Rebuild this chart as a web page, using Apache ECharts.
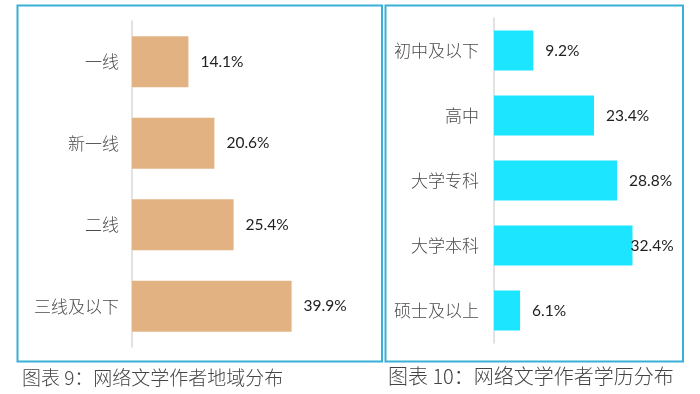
<!DOCTYPE html>
<html><head><meta charset="utf-8">
<script src="https://cdn.jsdelivr.net/npm/echarts@6/dist/echarts.min.js"></script>
<style>html,body{margin:0;padding:0;background:#fff}#c{width:700px;height:394px}</style>
</head><body><div id="c"></div>
<script>
var regionCategories = ['一线', '新一线', '二线', '三线及以下'];
var regionValues = [14.1, 20.6, 25.4, 39.9];
var eduCategories = ['初中及以下', '高中', '大学专科', '大学本科', '硕士及以上'];
var eduValues = [9.2, 23.4, 28.8, 32.4, 6.1];
var captionLeft = '图表 9：网络文学作者地域分布';
var captionRight = '图表 10：网络文学作者学历分布';

var chart = echarts.init(document.getElementById('c'), null, {renderer: 'canvas'});
var catLabel = {color: '#4a4a4a', fontSize: 17, fontFamily: 'Noto Sans CJK SC', fontWeight: 300, margin: 13};
var valLabelStyle = {show: true, position: 'right', distance: 12, color: '#222', fontSize: 15.5, fontFamily: 'Lato', formatter: function(p){return p.value.toFixed(1) + '%';}};
var eduData = eduValues.map(function(v, i){
  return i === 3 ? {value: v, label: {distance: -2}} : v;
});
chart.setOption({
  animation: false,
  graphic: [
    {type: 'rect', shape: {x: 17.5, y: 5.5, width: 364.5, height: 356}, style: {fill: 'none', stroke: '#38B0D8', lineWidth: 2}},
    {type: 'rect', shape: {x: 385.5, y: 5.5, width: 297.5, height: 356}, style: {fill: 'none', stroke: '#38B0D8', lineWidth: 2}},
    {type: 'text', left: 22, top: 368, style: {text: captionLeft, fill: '#444', fontSize: 19, fontFamily: 'Noto Sans CJK SC', fontWeight: 300}},
    {type: 'text', left: 388, top: 366, style: {text: captionRight, fill: '#444', fontSize: 20, fontFamily: 'Noto Sans CJK SC', fontWeight: 300}}
  ],
  grid: [
    {left: 132, top: 21, width: 240, height: 326},
    {left: 494, top: 18, width: 171, height: 325}
  ],
  xAxis: [
    {gridIndex: 0, type: 'value', min: 0, max: 60, show: false},
    {gridIndex: 1, type: 'value', min: 0, max: 40, show: false}
  ],
  yAxis: [
    {gridIndex: 0, type: 'category', data: regionCategories, inverse: true,
     axisLine: {lineStyle: {color: '#d9d9d9', width: 1.5}}, axisTick: {show: false}, axisLabel: catLabel},
    {gridIndex: 1, type: 'category', data: eduCategories, inverse: true,
     axisLine: {lineStyle: {color: '#d9d9d9', width: 1.5}}, axisTick: {show: false}, axisLabel: Object.assign({}, catLabel, {margin: 15})}
  ],
  series: [
    {type: 'bar', xAxisIndex: 0, yAxisIndex: 0, data: regionValues, barWidth: 51,
     itemStyle: {color: '#E2B283'}, label: valLabelStyle},
    {type: 'bar', xAxisIndex: 1, yAxisIndex: 1, data: eduData, barWidth: 40,
     itemStyle: {color: '#1CE6FF'}, label: valLabelStyle}
  ]
});
</script></body></html>
